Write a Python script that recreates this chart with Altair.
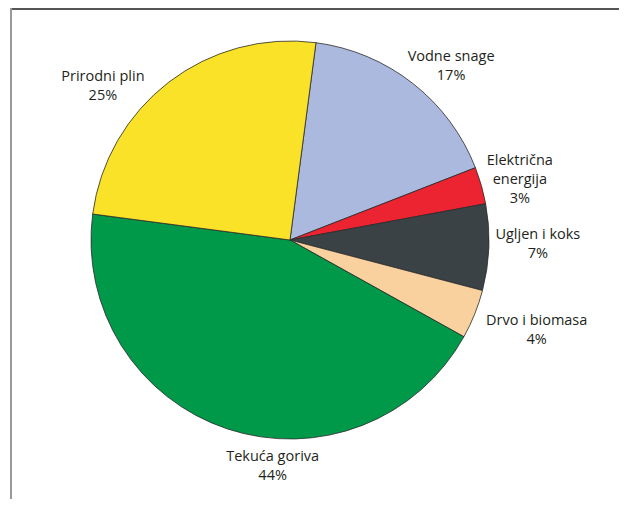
import math
import altair as alt
import pandas as pd

# ---- data ----
categories = ["Vodne snage", "Električna energija", "Ugljen i koks",
              "Drvo i biomasa", "Tekuća goriva", "Prirodni plin"]
shares = [17, 3, 7, 4, 44, 25]
label_texts = ["Vodne snage\n17%", "Električna\nenergija\n3%", "Ugljen i koks\n7%",
               "Drvo i biomasa\n4%", "Tekuća goriva\n44%", "Prirodni plin\n25%"]
colors = ["#aab9dd", "#ec2330", "#3b4245", "#f8d19f", "#00994a", "#f9e227"]

df = pd.DataFrame({
    "kategorija": categories,
    "udio": shares,
    "oznaka": label_texts,
    "red": list(range(len(categories))),
})

start = math.radians(7.5)
theta_scale = alt.Scale(domain=[0, 100], range=[start, start + 2 * math.pi])
CX, CY, R = 282, 232, 199

base = alt.Chart(df)

pie = base.mark_arc(outerRadius=R, stroke="#2a2a2a", strokeWidth=0.8).encode(
    theta=alt.Theta("udio:Q", stack=True, scale=theta_scale),
    order=alt.Order("red:Q"),
    color=alt.Color("kategorija:N", scale=alt.Scale(domain=categories, range=colors), legend=None),
    x=alt.value(CX),
    y=alt.value(CY),
)

# per-label fine offsets (style, not data)
offsets = {
    "Vodne snage": (13, 5.5),
    "Električna energija": (-1, -13),
    "Ugljen i koks": (8, -13.5),
    "Drvo i biomasa": (24, -8.5),
    "Tekuća goriva": (58, -10.5),
    "Prirodni plin": (-41, 27.5),
}

stacked = base.transform_window(
    kum="sum(udio)", sort=[alt.SortField("red")], frame=[None, 0]
).transform_calculate(sredina="datum.kum - datum.udio / 2")

labels = []
for cat in categories:
    dx, dy = offsets[cat]
    labels.append(
        stacked.transform_filter(alt.datum.kategorija == cat).mark_text(
            radius=240, dx=dx, dy=dy, lineBreak="\n", lineHeight=19,
            font="Open Sans", fontSize=14.5, color="#231f20",
            align="center", baseline="middle").encode(
            theta=alt.Theta("sredina:Q", scale=theta_scale),
            text="oznaka:N",
            x=alt.value(CX),
            y=alt.value(CY),
        )
    )

frame_top = base.mark_rule(color="#555555", strokeWidth=2).encode(
    x=alt.value(2), x2=alt.value(611), y=alt.value(1)
)
frame_left = base.mark_rule(color="#999999", strokeWidth=2).encode(
    x=alt.value(3), y=alt.value(0), y2=alt.value(491)
)

chart = alt.layer(frame_top, frame_left, pie, *labels).properties(
    width=611, height=491,
    autosize=alt.AutoSizeParams(type="none"),
    padding=0,
).configure_view(stroke=None)

chart.save("out.html", embed_options={"renderer": "svg", "actions": False})
